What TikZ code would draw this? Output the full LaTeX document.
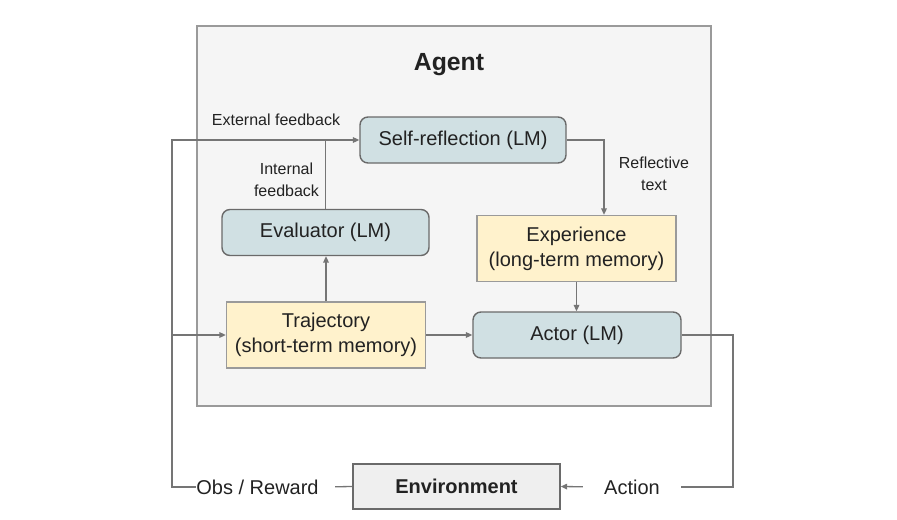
\documentclass[tikz,border=0pt]{standalone}
\usepackage{fontspec}
\setmainfont{Liberation Sans}
\usepackage{tikz}
\usetikzlibrary{positioning,arrows.meta}
\definecolor{ink}{HTML}{222222}
\definecolor{muted}{HTML}{757575}
\definecolor{frame}{HTML}{9A9A9A}
\definecolor{edge}{HTML}{6A6A6A}
\definecolor{panel}{HTML}{F5F5F5}
\definecolor{lmblue}{HTML}{D0E0E3}
\definecolor{memo}{HTML}{FFF2CC}
\definecolor{envgray}{HTML}{EFEFEF}
\tikzset{
  wire/.style={line width=0.65pt, color=muted},
  flow/.style={wire, -{Triangle[length=3.2pt,width=2.8pt]}},
  agentbg/.style={draw=frame, fill=panel, line width=0.8pt,
    minimum width=257pt, minimum height=190pt, inner sep=0pt},
  ttl/.style={font=\bfseries\fontsize{12.4}{14}\selectfont, text=ink},
  lm/.style={rounded corners=4pt, draw=edge, fill=lmblue, line width=0.7pt,
    minimum height=23pt, font=\fontsize{10}{12.5}\selectfont, text=ink, inner sep=2pt},
  mem/.style={draw=frame, fill=memo, line width=0.7pt, minimum width=99.5pt,
    minimum height=33pt, align=center, font=\fontsize{10}{12.5}\selectfont, text=ink, inner sep=2pt},
  envbox/.style={draw=edge, fill=envgray, line width=0.7pt, minimum width=103.5pt,
    minimum height=22.5pt, font=\bfseries\fontsize{10}{12}\selectfont, text=ink},
  lbl/.style={font=\fontsize{10}{12}\selectfont, text=ink, inner sep=0pt},
  note/.style={font=\fontsize{8}{11}\selectfont, text=ink, align=center, inner sep=1pt},
}
\begin{document}
\begin{tikzpicture}[x=0.5pt,y=-0.5pt]
  \useasboundingbox (0,0) rectangle (897,519);
  \node[agentbg] (agent) at (454,216) {};
  \node[ttl] (title) at (449,65) {Agent};
  \node[lm, minimum width=103pt] (refl) at (463,140) {Self-reflection (LM)};
  \node[lm, minimum width=103.5pt] (eval) at (325.5,232.5) {Evaluator (LM)};
  \node[mem] (exper) at (576.5,248.5) {Experience\\(long-term memory)};
  \node[mem] (traj) at (326,335) {Trajectory\\(short-term memory)};
  \node[lm, minimum width=104pt] (actor) at (577,335) {Actor (LM)};
  \node[envbox] (env) at (456.5,486.5) {Environment};
  \node[note] (ext) at (276,120) {External feedback};
  \node[note] (intl) at (286.5,180) {Internal\\feedback};
  \node[note] (rtxt) at (654,174) {Reflective\\text};
  \node[lbl] (obs) at (257.5,487) {Obs / Reward};
  \node[lbl] (act) at (632,487) {Action};
  \coordinate (inlet) at (172,140);
  \coordinate (bend) at (604,140);
  \coordinate (outlet) at (733,487);

  \draw[flow] (obs.west) -| (inlet) -- (refl.west);
  \draw[flow] (traj.west -| inlet) -- (traj.west);
  \draw[wire, shorten >=8pt] (env.west) -- (obs.east);
  \draw[wire] (eval.north) -- (eval.north |- refl.west);
  \draw[flow] (traj.north) -- (traj.north |- eval.south);
  \draw[flow] (refl.east) -| (bend |- exper.north);
  \draw[flow] (exper.south) -- (exper.south |- actor.north);
  \draw[flow] (traj.east) -- (actor.west);
  \draw[wire, shorten >=10.5pt] (actor.east) -| (outlet) -- (act.east);
  \draw[flow, shorten <=10.5pt] (act.west) -- (env.east);
\end{tikzpicture}
\end{document}
